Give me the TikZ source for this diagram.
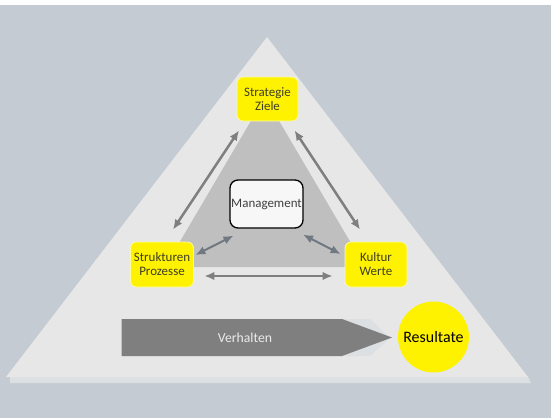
\documentclass[tikz,border=0pt]{standalone}
\usepackage{fontspec}
\setmainfont{Carlito}
\usepackage{xcolor}
\usepackage{tikz}
\usetikzlibrary{positioning}
\usetikzlibrary{arrows.meta}
\usetikzlibrary{calc}

\definecolor{bgblue}{RGB}{196,203,210}
\definecolor{pyramid}{RGB}{231,231,231}
\definecolor{pyrshadow}{RGB}{221,224,227}
\definecolor{core}{RGB}{191,191,191}
\definecolor{linkgrey}{RGB}{127,127,127}
\definecolor{linkblue}{RGB}{112,120,130}
\definecolor{boxtext}{RGB}{62,62,40}
\definecolor{glow}{RGB}{250,250,170}

\tikzset{
  factor/.style={fill=yellow, draw=glow, line width=0.8bp, rounded corners=6bp,
    minimum width=61bp, minimum height=44bp, inner sep=0pt, align=center,
    text=boxtext, font=\fontsize{13}{14}\selectfont},
  link/.style={draw=linkgrey, line width=2.5bp,
    {Latex[length=10bp,width=8.5bp]}-{Latex[length=10bp,width=8.5bp]}},
  minorlink/.style={link, draw=linkblue, line width=2bp}
}

\begin{document}
\begin{tikzpicture}[x=1bp,y=-1bp]
 \useasboundingbox (0,0) rectangle (551,418);
 \fill[white] (0,0) rectangle (551,5);
 \fill[bgblue] (0,5) rectangle (551,418);

 % pyramid
 \fill[pyrshadow] (10,377) -- (528,377) -- (531,383) -- (10,383) -- cycle;
 \fill[pyramid] (6,377) -- (267,37) -- (528,377) -- cycle;
 \fill[core] (265,97) -- (165,267) -- (365,267) -- cycle;

 \node[factor] (strat) at (267.5,99) {Strategie\\Ziele};
 \node[factor, minimum width=63bp, minimum height=45bp] (struk) at (162,264.5) {Strukturen\\Prozesse};
 \node[factor, minimum width=62bp, minimum height=45bp] (kult) at (376,264.5) {Kultur\\Werte};
 \node[fill=white!97!black, draw=black, line width=1.3bp, rounded corners=8bp,
       minimum width=73bp, minimum height=48bp, inner sep=0pt,
       text=black!75, font=\fontsize{13}{14}\selectfont] (mgmt) at (266.5,204) {Management};

 \foreach \a/\b/\c/\d in {strat.south/-28.5/9/1, struk.north/11/-12/2,
     strat.south/27/9/3, kult.north/-16/-12/4,
     mgmt.south/-33/7/5, struk.east/1.5/-9.5/6,
     mgmt.south/36.5/6/7, kult.west/-4/-10.5/8,
     struk.east/10.5/11.5/9, kult.west/-12/11.5/10}{
   \coordinate (e\d) at ($(\a)+(\b,\c)$);
 }
 \draw[link] (e1) -- (e2);
 \draw[link] (e3) -- (e4);
 \draw[minorlink] (e5) -- (e6);
 \draw[minorlink] (e7) -- (e8);
 \draw[link] (e9) -- (e10);

 % behaviour leads to results
 \fill[pyrshadow] (342,319) -- (370,319) -- (390,338) -- (370,356) -- (342,356) -- cycle;
 \fill[linkgrey] (121.5,319) -- (342,319) -- (392,337.5) -- (342,356) -- (121.5,356) -- cycle;
 \node[text=white!92!black, font=\fontsize{13.8}{16}\selectfont] (verh) at (245,338) {Verhalten};
 \node[circle, fill=yellow, minimum size=71bp, inner sep=0pt,
       font=\fontsize{16}{18}\selectfont] (res) at (433.5,337) {Resultate};

\end{tikzpicture}
\end{document}
